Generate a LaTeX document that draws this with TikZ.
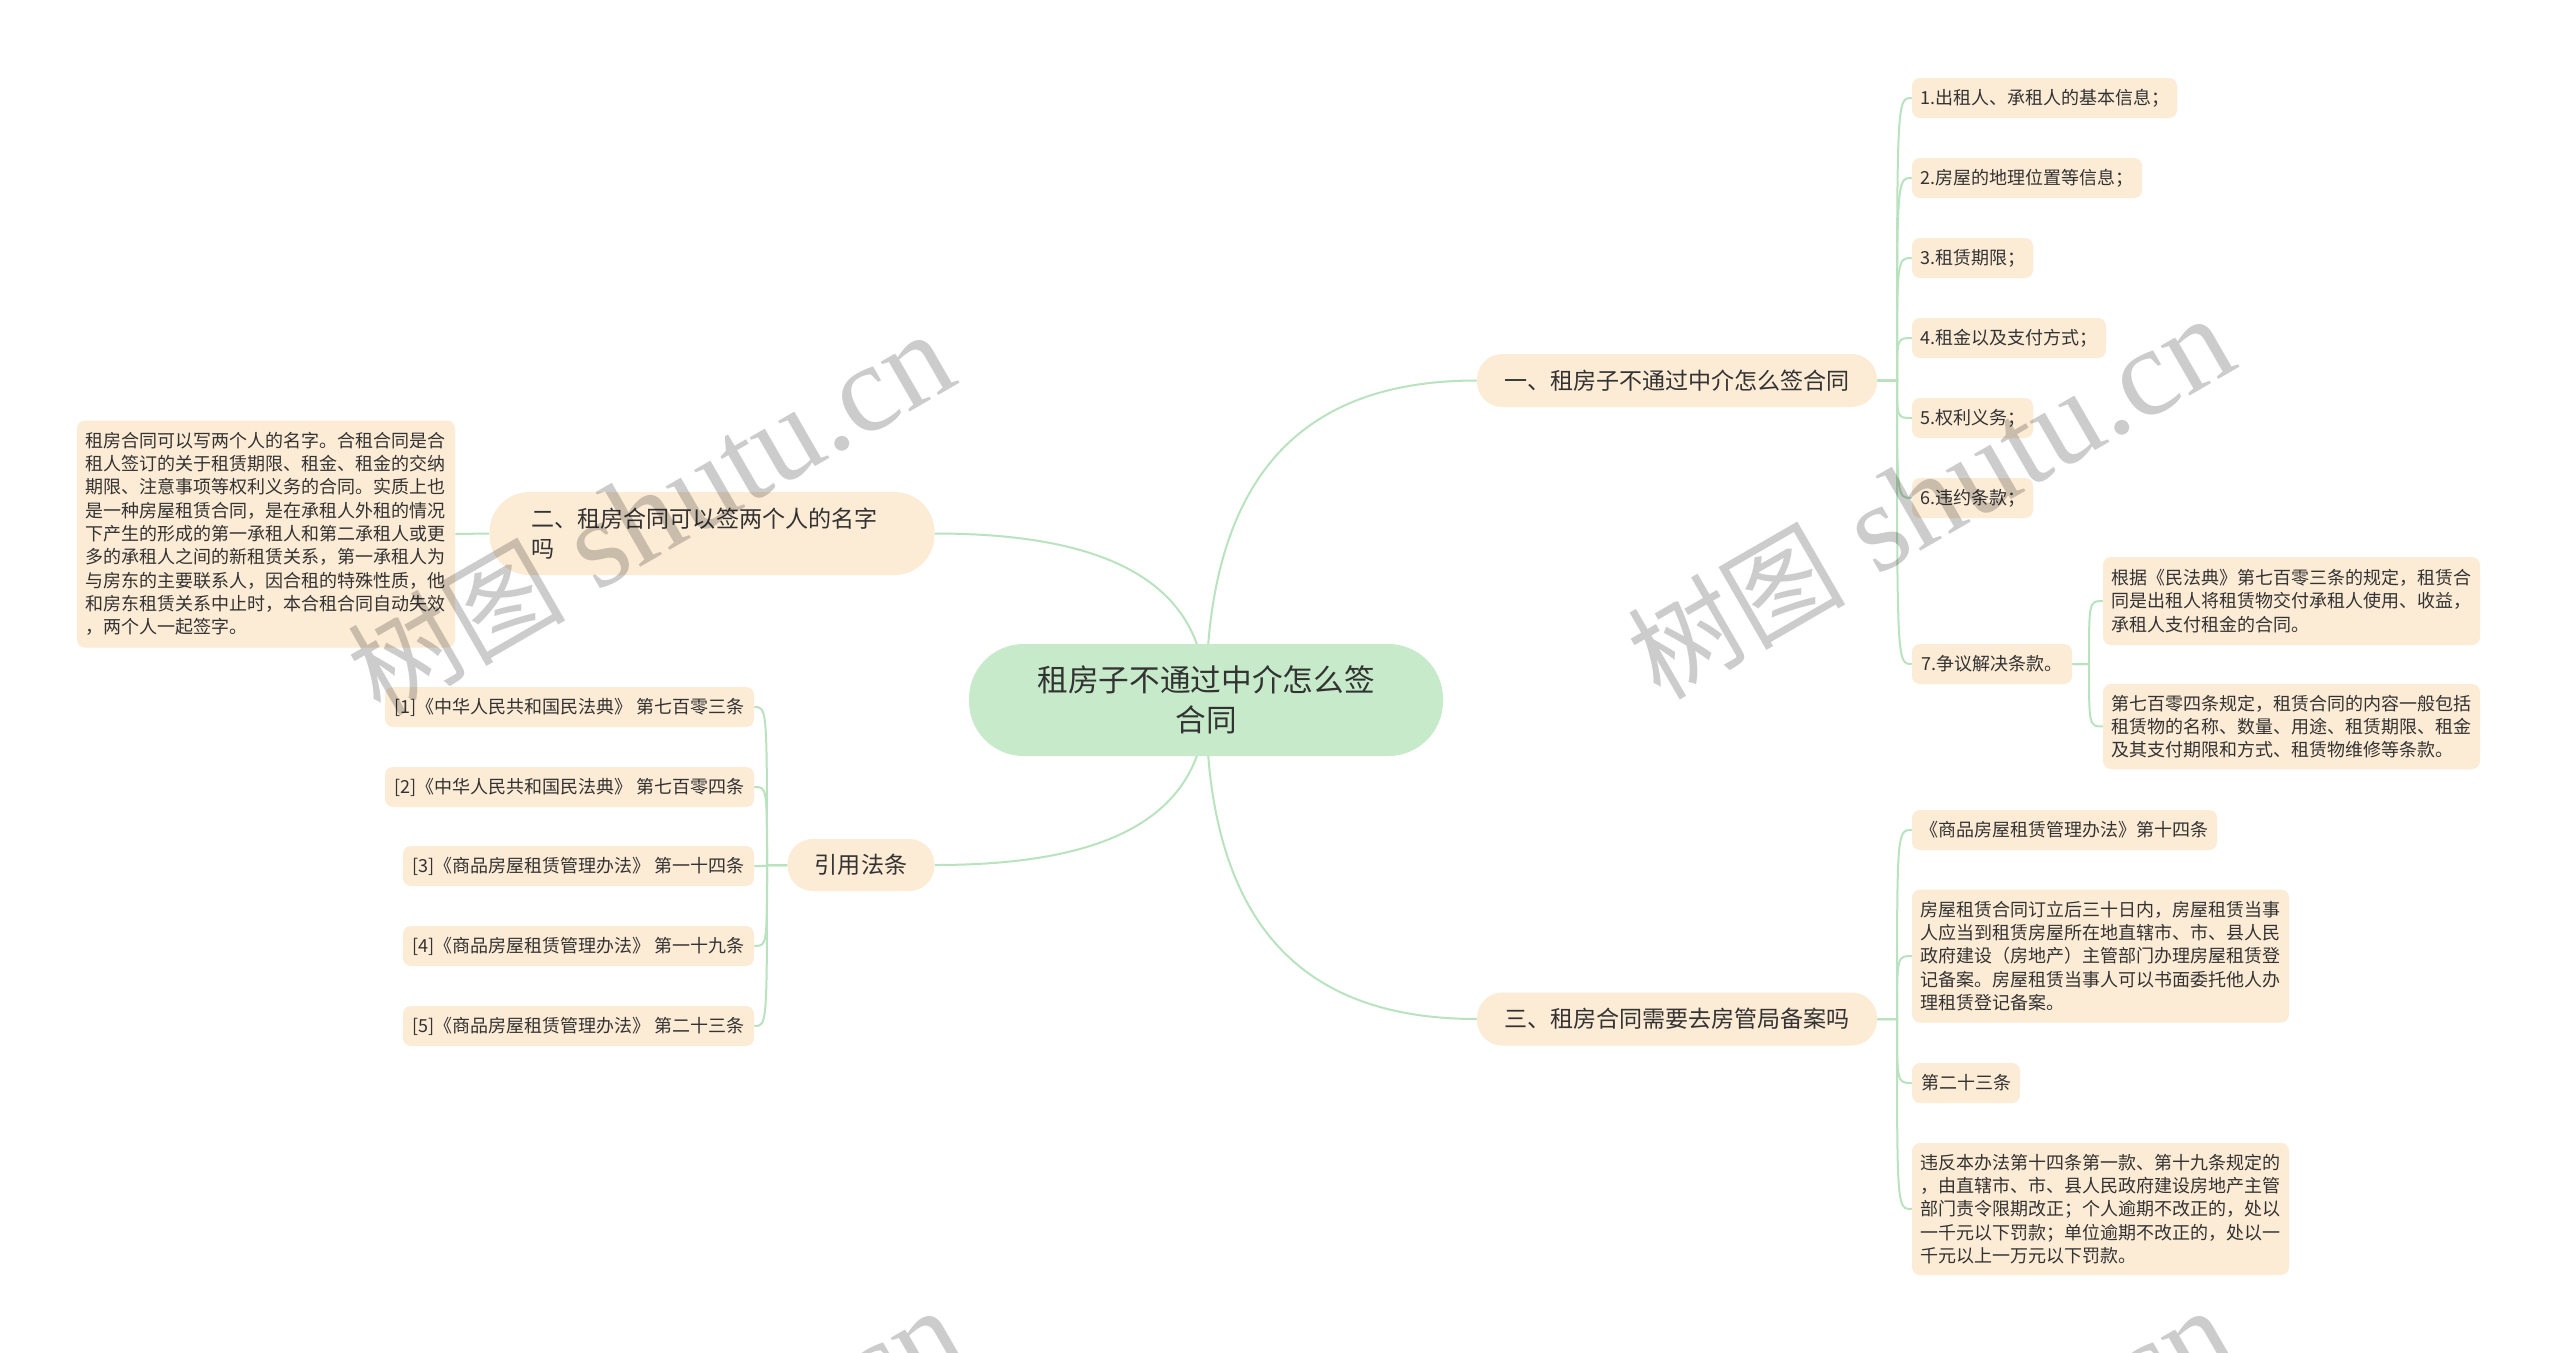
\documentclass[tikz,border=0pt]{standalone}
\usepackage{fontspec}
\newfontfamily\cjk{Noto Sans CJK SC}
\newfontfamily\wmserif{Liberation Serif}
\usetikzlibrary{backgrounds}
\definecolor{leaffill}{HTML}{FCEBD5}
\definecolor{rootfill}{HTML}{C7EBCA}
\definecolor{linkcol}{HTML}{B9E3BF}
\definecolor{txt}{HTML}{333333}
\newcommand\wmtext{{\cjk\fontsize{82}{82}\selectfont 树图}{\wmserif\fontsize{94}{94}\selectfont\ shutu.cn}}
\begin{document}
\begin{tikzpicture}[x=0.75pt,y=-0.75pt,
  every node/.style={text=txt},
  leaf/.style={fill=leaffill, font=\cjk\fontsize{13.5}{17.5}\selectfont, inner xsep=0pt, inner ysep=0pt, rounded corners=6pt, minimum height=30pt},
  para/.style={fill=leaffill, font=\cjk\fontsize{13.5}{17.5}\selectfont, align=left, inner xsep=6pt, inner ysep=0pt, rounded corners=6pt},
  branch/.style={fill=leaffill, font=\cjk\fontsize{17.3}{22.5}\selectfont, inner sep=0pt, minimum height=39.75pt, minimum width=300pt, rounded corners=19pt},
  root/.style={fill=rootfill, font=\cjk\fontsize{23}{30}\selectfont, align=center, inner sep=0pt, minimum width=355.5pt, minimum height=84pt, rounded corners=41pt},
  link/.style={draw=linkcol, line width=1.5pt},
  wm/.style={rotate=30, text=black, text opacity=0.2, inner sep=0pt}]
\useasboundingbox (0,0) rectangle (2560,1353);

% root and main branches
\node[root] (root) at (1206,700) {租房子不通过中介怎么签\\合同};
\node[branch] (b1) at (1677,380.5) {一、租房子不通过中介怎么签合同};
\node[branch] (b3) at (1677,1019) {三、租房合同需要去房管局备案吗};
\node[branch, align=left, text width=270.75pt, inner xsep=31.5pt, minimum width=0pt, minimum height=62.25pt, rounded corners=30pt] (b2) at (712,533.5) {二、租房合同可以签两个人的名字\\吗};
\node[branch, minimum width=110.25pt, minimum height=39pt] (b4) at (861,865) {引用法条};

% branch 2 child
\node[para, text width=271.5pt, minimum height=170.25pt] (L) at (266,534) {租房合同可以写两个人的名字。合租合同是合\\租人签订的关于租赁期限、租金、租金的交纳\\期限、注意事项等权利义务的合同。实质上也\\是一种房屋租赁合同，是在承租人外租的情况\\下产生的形成的第一承租人和第二承租人或更\\多的承租人之间的新租赁关系，第一承租人为\\与房东的主要联系人，因合租的特殊性质，他\\和房东租赁关系中止时，本合租合同自动失效\\，两个人一起签字。};

% citations
\node[leaf, minimum width=276.75pt] (c1) at (569.5,707) {[1]《中华人民共和国民法典》 第七百零三条};
\node[leaf, minimum width=276.75pt] (c2) at (569.5,787) {[2]《中华人民共和国民法典》 第七百零四条};
\node[leaf, minimum width=263.25pt] (c3) at (578.5,866) {[3]《商品房屋租赁管理办法》 第一十四条};
\node[leaf, minimum width=263.25pt] (c4) at (578.5,946) {[4]《商品房屋租赁管理办法》 第一十九条};
\node[leaf, minimum width=263.25pt] (c5) at (578.5,1026) {[5]《商品房屋租赁管理办法》 第二十三条};

% branch 1 leaves
\node[leaf, minimum width=198.75pt] (l1) at (2044.5,98) {1.出租人、承租人的基本信息；};
\node[leaf, minimum width=172.5pt] (l2) at (2027,178) {2.房屋的地理位置等信息；};
\node[leaf, minimum width=90.75pt] (l3) at (1972.5,258) {3.租赁期限；};
\node[leaf, minimum width=145.5pt] (l4) at (2009,338) {4.租金以及支付方式；};
\node[leaf, minimum width=90.75pt] (l5) at (1972.5,418) {5.权利义务；};
\node[leaf, minimum width=90.75pt] (l6) at (1972.5,498) {6.违约条款；};
\node[leaf, minimum width=120pt] (l7) at (1992,664) {7.争议解决条款。};
\node[para, text width=270.75pt, minimum height=66pt] (l7a) at (2291.5,601) {根据《民法典》第七百零三条的规定，租赁合\\同是出租人将租赁物交付承租人使用、收益，\\承租人支付租金的合同。};
\node[para, text width=270.75pt, minimum height=63.75pt] (l7b) at (2291.5,726.5) {第七百零四条规定，租赁合同的内容一般包括\\租赁物的名称、数量、用途、租赁期限、租金\\及其支付期限和方式、租赁物维修等条款。};

% branch 3 leaves
\node[leaf, minimum width=228.75pt] (m1) at (2064.5,830) {《商品房屋租赁管理办法》第十四条};
\node[para, text width=270.75pt, minimum height=99.75pt] (m2) at (2100.5,956) {房屋租赁合同订立后三十日内，房屋租赁当事\\人应当到租赁房屋所在地直辖市、市、县人民\\政府建设（房地产）主管部门办理房屋租赁登\\记备案。房屋租赁当事人可以书面委托他人办\\理租赁登记备案。};
\node[leaf, minimum width=81pt] (m3) at (1966,1083) {第二十三条};
\node[para, text width=270.75pt, minimum height=99pt] (m4) at (2100.5,1209) {违反本办法第十四条第一款、第十九条规定的\\，由直辖市、市、县人民政府建设房地产主管\\部门责令限期改正；个人逾期不改正的，处以\\一千元以下罚款；单位逾期不改正的，处以一\\千元以上一万元以下罚款。};

% trunk points
\coordinate (t1) at (1897,380.5);
\coordinate (t3) at (1897,1019);
\coordinate (t4) at (767,865);
\coordinate (t7) at (2089,664);

\begin{pgfonlayer}{background}
\fill[white] (0,0) rectangle (2560,1353);
\draw[link] (root.center) .. controls +(0,-230) and +(-170,0) .. (b1.west);
\draw[link] (root.center) .. controls +(0,-130) and +(150,0) .. (b2.east);
\draw[link] (root.center) .. controls +(0,130) and +(150,0) .. (b4.east);
\draw[link] (root.center) .. controls +(0,230) and +(-170,0) .. (b3.west);
\draw[link] (b2.west) -- (L.east);
\foreach \c in {c1,c2,c3,c4,c5}
  \draw[link] (b4.west) -- (t4) .. controls (t4 |- \c.east) .. (\c.east);
\foreach \c in {l1,l2,l3,l4,l5,l6,l7}
  \draw[link] (b1.east) -- (t1) .. controls (t1 |- \c.west) .. (\c.west);
\foreach \c in {l7a,l7b}
  \draw[link] (l7.east) -- (t7) .. controls (t7 |- \c.west) .. (\c.west);
\foreach \c in {m1,m2,m3,m4}
  \draw[link] (b3.east) -- (t3) .. controls (t3 |- \c.west) .. (\c.west);
\end{pgfonlayer}

% watermarks
\begin{scope}
\clip (0,0) rectangle (2560,1353);
\node[wm] (wm1) at (650,514) {\wmtext};
\node[wm] (wm2) at (1930,498) {\wmtext};
\node[wm] (wm3) at (660,1490) {\wmtext};
\node[wm] (wm4) at (1930,1490) {\wmtext};
\end{scope}
\end{tikzpicture}
\end{document}
